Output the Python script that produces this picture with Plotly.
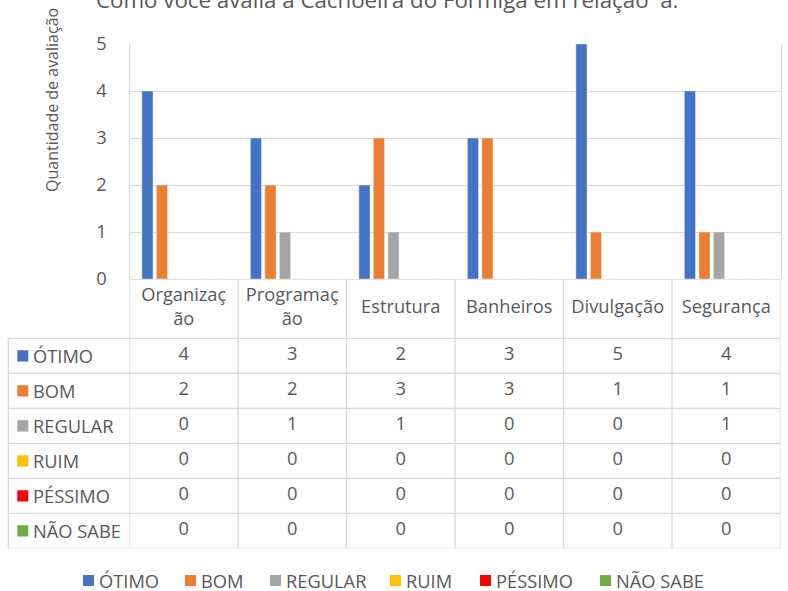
import plotly.graph_objects as go

W, H = 788, 591

CATEGORIES = ["Organização", "Programação", "Estrutura", "Banheiros", "Divulgação", "Segurança"]
HEADER_LABELS = ["Organizaç<br>ão", "Programaç<br>ão", "Estrutura", "Banheiros", "Divulgação", "Segurança"]
SERIES = ["ÓTIMO", "BOM", "REGULAR", "RUIM", "PÉSSIMO", "NÃO SABE"]
COLORS = ["#4472C4", "#ED7D31", "#A5A5A5", "#FFC000", "#FF0000", "#70AD47"]

OTIMO = [4, 3, 2, 3, 5, 4]
BOM = [2, 2, 3, 3, 1, 1]
REGULAR = [0, 1, 1, 0, 0, 1]
RUIM = [0, 0, 0, 0, 0, 0]
PESSIMO = [0, 0, 0, 0, 0, 0]
NAO_SABE = [0, 0, 0, 0, 0, 0]
VALUES = [OTIMO, BOM, REGULAR, RUIM, PESSIMO, NAO_SABE]

TITLE = "Como você avalia a Cachoeira do Formiga em relação\u00a0 a:"
Y_TITLE = "Quantidade de avaliação"

FONT = "Open Sans"
TXT = "#595959"
GRID = "#D9D9D9"
FS = 18.3


def px(x):
    return x / W


def py(y):
    return 1 - y / H


# layout in pixels of the reference
PLOT_L, PLOT_R, PLOT_T, PLOT_B = 129.5, 780.5, 44, 279
TABLE_L, TABLE_B = 8.3, 548.3
ROW_H = 35
HEAD_ROWS = (338.3 - PLOT_B) / ROW_H

fig = go.Figure()

for name, vals, col in zip(SERIES, VALUES, COLORS):
    fig.add_trace(go.Bar(x=CATEGORIES, y=vals, name=name, marker_color=col,
                         xaxis="x", yaxis="y", showlegend=False))

# data table: header and values
fig.add_trace(go.Scatter(x=CATEGORIES, y=[-0.5 - HEAD_ROWS / 2] * len(CATEGORIES),
                         text=HEADER_LABELS, mode="text", xaxis="x", yaxis="y2",
                         textfont=dict(family=FONT, size=FS, color=TXT),
                         showlegend=False, hoverinfo="skip", cliponaxis=False))
for i, vals in enumerate(VALUES):
    fig.add_trace(go.Scatter(x=CATEGORIES, y=[i] * len(CATEGORIES),
                             text=[str(v) for v in vals], mode="text",
                             xaxis="x", yaxis="y2", cliponaxis=False,
                             textfont=dict(family=FONT, size=FS, color=TXT),
                             showlegend=False, hoverinfo="skip"))

shapes = []
line = dict(color=GRID, width=1.3)
# horizontal table lines
for k in range(len(SERIES) + 1):
    shapes.append(dict(type="line", xref="paper", yref="y2",
                       x0=px(TABLE_L), x1=px(PLOT_R), y0=k - 0.5, y1=k - 0.5, line=line))
shapes.append(dict(type="line", xref="paper", yref="y2",
                   x0=px(PLOT_L), x1=px(PLOT_R), y0=-0.5 - HEAD_ROWS, y1=-0.5 - HEAD_ROWS, line=line))
# vertical table lines
for k in range(len(CATEGORIES) + 1):
    shapes.append(dict(type="line", xref="x", yref="y2",
                       x0=k - 0.5, x1=k - 0.5, y0=-0.5 - HEAD_ROWS, y1=len(SERIES) - 0.5, line=line))
shapes.append(dict(type="line", xref="paper", yref="y2",
                   x0=px(TABLE_L), x1=px(TABLE_L), y0=-0.5, y1=len(SERIES) - 0.5, line=line))

annotations = []
# series names with colour keys
for i, (name, col) in enumerate(zip(SERIES, COLORS)):
    shapes.append(dict(type="rect", xref="paper", yref="y2",
                       x0=px(17.3), x1=px(28.3), y0=i - 0.16, y1=i + 0.16,
                       fillcolor=col, line=dict(width=0)))
    annotations.append(dict(text=name, xref="paper", yref="y2", x=px(31), y=i,
                            xanchor="left", yanchor="middle", showarrow=False,
                            font=dict(family=FONT, size=FS, color=TXT)))

# bottom legend
LEGEND_X = [83, 185, 270, 390, 480, 600]
for name, col, lx in zip(SERIES, COLORS, LEGEND_X):
    shapes.append(dict(type="rect", xref="paper", yref="paper",
                       x0=px(lx), x1=px(lx + 11), y0=py(586), y1=py(575),
                       fillcolor=col, line=dict(width=0)))
    annotations.append(dict(text=name, xref="paper", yref="paper", x=px(lx + 14), y=py(580.5),
                            xanchor="left", yanchor="middle", showarrow=False,
                            font=dict(family=FONT, size=FS, color=TXT)))

annotations.append(dict(text=TITLE, xref="paper", yref="paper", x=px(387), y=py(-1),
                        xanchor="center", yanchor="middle", showarrow=False,
                        font=dict(family=FONT, size=22.3, color=TXT)))
annotations.append(dict(text=Y_TITLE, xref="paper", yref="paper", x=px(52), y=py(100),
                        xanchor="center", yanchor="middle", showarrow=False, textangle=-90,
                        font=dict(family=FONT, size=16, color=TXT)))

fig.update_layout(
    width=W, height=H,
    margin=dict(l=0, r=0, t=0, b=0, autoexpand=False),
    paper_bgcolor="white", plot_bgcolor="white",
    barmode="group", bargap=0.197, bargroupgap=0.234,
    font=dict(family=FONT, size=FS, color=TXT),
    xaxis=dict(domain=[px(PLOT_L), px(PLOT_R)], range=[-0.5, len(CATEGORIES) - 0.5],
               showticklabels=False, showgrid=False,
               zeroline=False, showline=False, fixedrange=True),
    yaxis=dict(domain=[py(PLOT_B), py(PLOT_T)], range=[0, 5], dtick=1,
               showgrid=True, gridcolor=GRID, gridwidth=1.3, zeroline=False,
               showline=True, linecolor=GRID, linewidth=1.3, mirror=True,
               ticks="", ticklabelstandoff=18,
               tickfont=dict(family=FONT, size=FS, color=TXT)),
    yaxis2=dict(domain=[py(TABLE_B), py(PLOT_B)],
                range=[len(SERIES) - 0.5, -0.5 - HEAD_ROWS],
                visible=False, anchor="x"),
    shapes=shapes,
    annotations=annotations,
)

# drop the browser's default body margin so the figure sits at the page corner
fig.write_html("out.html", config={"displayModeBar": False},
               post_script="document.body.style.margin = '0';")
